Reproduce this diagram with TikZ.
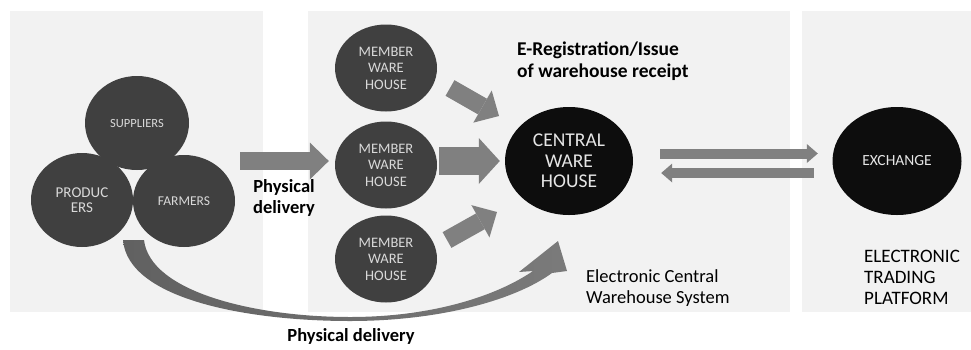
\documentclass[tikz,border=0pt]{standalone}
\usepackage{fontspec}
\setmainfont{Carlito}
\usetikzlibrary{arrows.meta,positioning,shapes.geometric,calc}
\definecolor{pnlGray}{HTML}{F2F2F2}
\definecolor{nodeDark}{HTML}{404040}
\definecolor{nodeBlack}{HTML}{0D0D0D}
\definecolor{arrGray}{HTML}{808080}
\definecolor{capText}{HTML}{D9D9D9}
\tikzset{
  panel/.style={fill=pnlGray},
  circ/.style={ellipse, fill=nodeDark, text=capText, align=center, inner sep=0pt,
               minimum width=102pt, minimum height=#1},
  circ/.default=87pt,
  hub/.style={ellipse, fill=nodeBlack, text=white!90!black, align=center, inner sep=0pt,
              minimum width=128pt, minimum height=108pt},
  lbl/.style={inner sep=0pt, align=left, font=\fontsize{18.5}{21}\selectfont},
  lblb/.style={lbl, font=\bfseries\fontsize{18.5}{21}\selectfont},
  blk/.style={arrGray, line width=18pt, -{Triangle[length=19pt,width=37pt,line width=0pt]}},
  fatblk/.style={arrGray, line width=28pt, -{Triangle[length=21pt,width=46pt,line width=0pt]}},
  thinblk/.style={arrGray, line width=10pt, -{Triangle[length=11pt,width=19pt,line width=0pt]}},
}
\begin{document}
\begin{tikzpicture}[x=1pt,y=-1pt]
  \useasboundingbox (0,0) rectangle (971,349);
  % panels
  \fill[panel] (10,11) rectangle (263,312);
  \fill[panel] (308,11) rectangle (790,312);
  \fill[panel] (802,11) rectangle (971,312);
  % sources
  \node[circ=94pt, minimum width=104pt, font=\fontsize{12.5}{14}\selectfont] (sup) at (137,123) {SUPPLIERS};
  \node[circ=94pt, font=\fontsize{15}{15.5}\selectfont] (prod) at (82,200) {PRODUC\\ERS};
  \node[circ=92pt, font=\fontsize{13.5}{15}\selectfont] (farm) at (184,201) {FARMERS};
  % member warehouses
  \foreach \n/\y in {1/68,2/165,3/259}
    \node[circ, font=\fontsize{14.5}{16.5}\selectfont] (mw\n) at (386,\y) {MEMBER\\WARE\\HOUSE};
  \node[hub, font=\fontsize{19.5}{20.5}\selectfont] (cw) at (569,161) {CENTRAL\\WARE\\HOUSE};
  \node[hub, minimum width=129pt, font=\fontsize{15.5}{17}\selectfont] (exch) at (897,161) {EXCHANGE};
  % block arrows
  \coordinate (grp) at (240,161);
  \draw[blk, shorten >=6pt] (grp) -- (grp -| mw2.west);
  \draw[blk] ($(mw1)+(64,20)$) -- ($(cw)+(-70,-45)$);
  \draw[fatblk, shorten <=2pt, shorten >=5pt] (mw2.east |- cw) -- (cw.west);
  \draw[blk] ($(mw3)+(61,-19)$) -- ($(cw)+(-72,51)$);
  \draw[thinblk] ($(cw.east)+(27,-7.5)$) -- ($(exch.west)+(-14.5,-7.5)$);
  \draw[thinblk] ($(exch.west)+(-18.5,12)$) -- ($(cw.east)+(28,12)$);
  % curved delivery arrow
  \shade[left color=black!62, middle color=black!42, right color=black!52]
    (123,240) .. controls (128,300) and (250,321) .. (350,321)
    .. controls (440,321) and (515,300) .. (552,273)
    -- (567,271) -- (558,241) -- (519,272) -- (533,271)
    .. controls (495,297) and (430,317) .. (350,317)
    .. controls (255,317) and (150,292) .. (144,240) -- cycle;
  % labels
  \node[lblb, align=center] (pd1) at (284,198) {Physical\\delivery};
  \node[lblb, anchor=west, font=\bfseries\fontsize{19.5}{22}\selectfont] (ereg) at (517,61) {E-Registration/Issue\\of warehouse receipt};
  \node[lbl, anchor=west] (ecws) at (586,288) {Electronic Central\\Warehouse System};
  \node[lbl, anchor=west, font=\fontsize{19}{21}\selectfont] (etp) at (864,277) {ELECTRONIC\\TRADING\\PLATFORM};
  \node[lblb] (pd2) at (351,336) {Physical delivery};
\end{tikzpicture}
\end{document}
